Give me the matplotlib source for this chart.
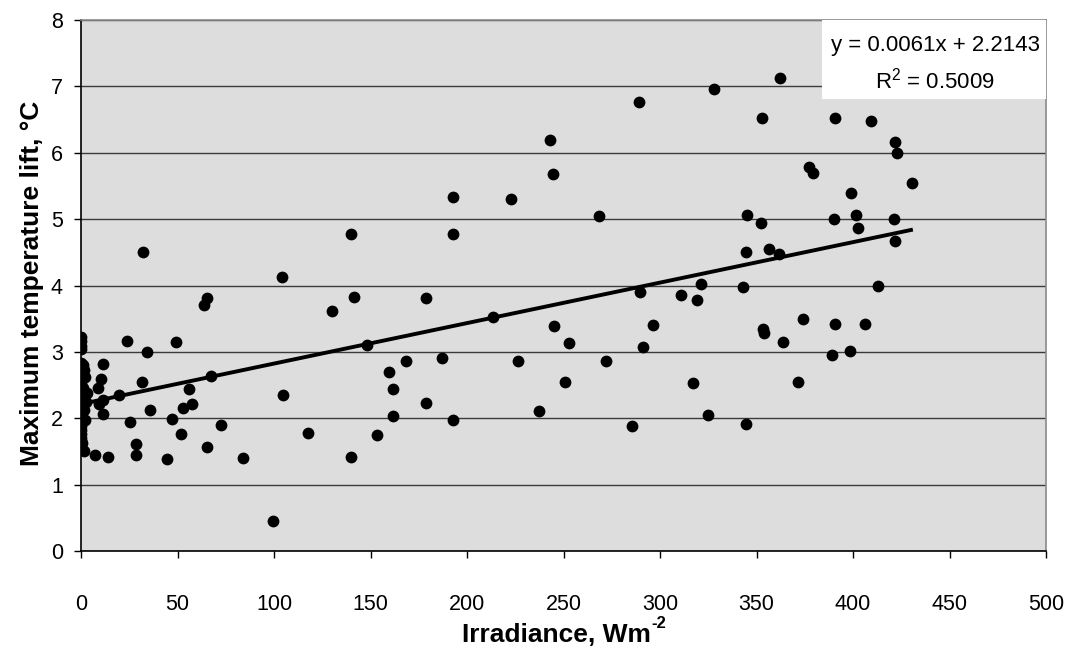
import matplotlib.pyplot as plt
import numpy as np
from matplotlib.patches import Rectangle

plt.rcParams['font.family'] = ['Liberation Sans', 'DejaVu Sans']
plt.rcParams['mathtext.fontset'] = 'custom'
plt.rcParams['mathtext.rm'] = 'Liberation Sans'

# readings near zero irradiance (night / dawn)
x_low = [0, 0, 0, 0, 0, 0, 0, 0, 0, 0, 0, 0, 0, 0, 0, 0, 0, 0, 0, 0,
         0, 0, 0, 0, 0, 0, 0, 0, 0.5, 1.2, 1.5, 2, 1, 3, 2.5, 1.5, 2, 1.6]
y_low = [3.23, 3.16, 3.09, 3.04, 2.83, 2.77, 2.71, 2.64, 2.59, 2.53, 2.47, 2.43,
         2.38, 2.33, 2.28, 2.24, 2.19, 2.14, 2.09, 2.04, 1.99, 1.93, 1.88, 1.83,
         1.77, 1.71, 1.66, 1.58, 1.62, 2.80, 2.72, 2.62, 2.45, 2.38, 2.25, 2.12,
         1.98, 1.50]

# daytime readings
x_day = [7, 14, 9, 11.6, 10.5, 11.6, 9.5, 11.2, 19.5, 23.7, 25.5, 28.3, 28.3, 31.8,
         31.9, 34, 35.8, 44.4, 47.2, 49.2, 51.8, 53, 55.8, 57.3, 63.7, 65.1, 65.4,
         67.4, 72.5, 83.8, 99.5, 104.1, 104.5, 117.4, 129.9, 140.1, 140.1, 141.3,
         148.3, 153.4, 159.4, 161.8, 161.8, 168.4, 178.8, 178.8, 187, 192.6, 192.9,
         192.9, 213.3, 222.6, 226.4, 237.3, 243, 244.7, 245.1, 251, 252.8, 268.4,
         272, 285.6, 289.1, 289.6, 291.2, 296.5, 310.9, 317.3, 319.3, 321.1, 324.9,
         328.1, 343, 344.6, 344.9, 344.6, 352.7, 352.2, 353.5, 354, 356.6, 362.2,
         361.8, 363.9, 371.7, 373.9, 377.4, 379.1, 388.9, 390.2, 390.7, 390.8,
         398.4, 399, 401.4, 402.4, 406.2, 409.5, 412.8, 421.2, 421.8, 421.8, 422.6,
         430.4]
y_day = [1.45, 1.41, 2.45, 2.82, 2.59, 2.27, 2.21, 2.07, 2.35, 3.16, 1.95, 1.61,
         1.44, 2.55, 4.50, 3.00, 2.12, 1.38, 1.99, 3.15, 1.77, 2.16, 2.44, 2.21,
         3.70, 3.81, 1.57, 2.64, 1.90, 1.40, 0.45, 4.13, 2.35, 1.78, 3.62, 4.77,
         1.41, 3.82, 3.11, 1.75, 2.69, 2.44, 2.04, 2.86, 3.81, 2.23, 2.91, 5.33,
         4.77, 1.98, 3.53, 5.31, 2.87, 2.11, 6.19, 5.68, 3.39, 2.54, 3.13, 5.05,
         2.86, 1.89, 6.76, 3.90, 3.07, 3.40, 3.85, 2.53, 3.78, 4.03, 2.05, 6.96,
         3.98, 4.51, 5.07, 1.91, 6.52, 4.94, 3.34, 3.29, 4.55, 7.13, 4.47, 3.15,
         2.54, 3.49, 5.79, 5.69, 2.95, 5.00, 3.42, 6.52, 3.02, 5.40, 5.06, 4.86,
         3.42, 6.48, 4.00, 5.00, 4.67, 6.16, 6.00, 5.55]

slope = 0.0061
intercept = 2.2143
r_squared = 0.5009
fit_x = [0, 430]

fig = plt.figure(figsize=(10.72, 6.48), dpi=100)
ax = fig.add_axes([0.0756, 0.1497, 0.9002, 0.8193])
ax.set_facecolor('#dddddd')

ax.scatter(x_low + x_day, y_low + y_day, s=72, color='black', zorder=3, linewidths=0)

fx = np.array(fit_x)
ax.plot(fx, slope * fx + intercept, color='black', lw=2.8, zorder=4)

ax.set_xlim(0, 500)
ax.set_ylim(0, 8)
ax.set_xticks(range(0, 501, 50))
ax.set_yticks(range(0, 9))
ax.grid(axis='y', color='#3a3a3a', lw=1.0, zorder=1)
ax.set_axisbelow(True)

for side in ['top', 'right']:
    ax.spines[side].set_color('#8a8a8a')
    ax.spines[side].set_linewidth(1.2)
for side in ['left', 'bottom']:
    ax.spines[side].set_color('black')
    ax.spines[side].set_linewidth(1.2)

ax.tick_params(axis='both', labelsize=15.5, direction='out', length=5, width=1)
ax.tick_params(axis='x', pad=26)
ax.tick_params(axis='y', pad=8)

ax.set_ylabel('Maximum temperature lift, °C', fontsize=19, fontweight='bold')
ax.yaxis.set_label_coords(-0.038, 0.505)

# equation box in the top right corner
ax.add_patch(Rectangle((0.768, 0.851), 0.232, 0.149, transform=ax.transAxes,
                       facecolor='white', edgecolor='none', zorder=5))
ax.text(0.885, 0.953, f'y = {slope}x + {intercept}', transform=ax.transAxes,
        ha='center', va='center', fontsize=16, zorder=6)
ax.text(0.885, 0.887, f'R$^{{2}}$ = {r_squared}', transform=ax.transAxes,
        ha='center', va='center', fontsize=16, zorder=6)

# x label with a hyphen superscript, centred under the axes
W, H = fig.get_size_inches() * fig.dpi
main = fig.text(0, 6 / H, 'Irradiance, Wm', fontsize=19, fontweight='bold', va='baseline')
sup = fig.text(0, 20 / H, '-2', fontsize=12, fontweight='bold', va='baseline')
fig.canvas.draw()
r = fig.canvas.get_renderer()
w1 = main.get_window_extent(r).width
w2 = sup.get_window_extent(r).width
center = (0.0756 + 0.9002 / 2) * W
start = center - (w1 + w2) / 2
main.set_x(start / W)
sup.set_x((start + w1 + 1) / W)

fig.savefig('out.png', dpi=100)
